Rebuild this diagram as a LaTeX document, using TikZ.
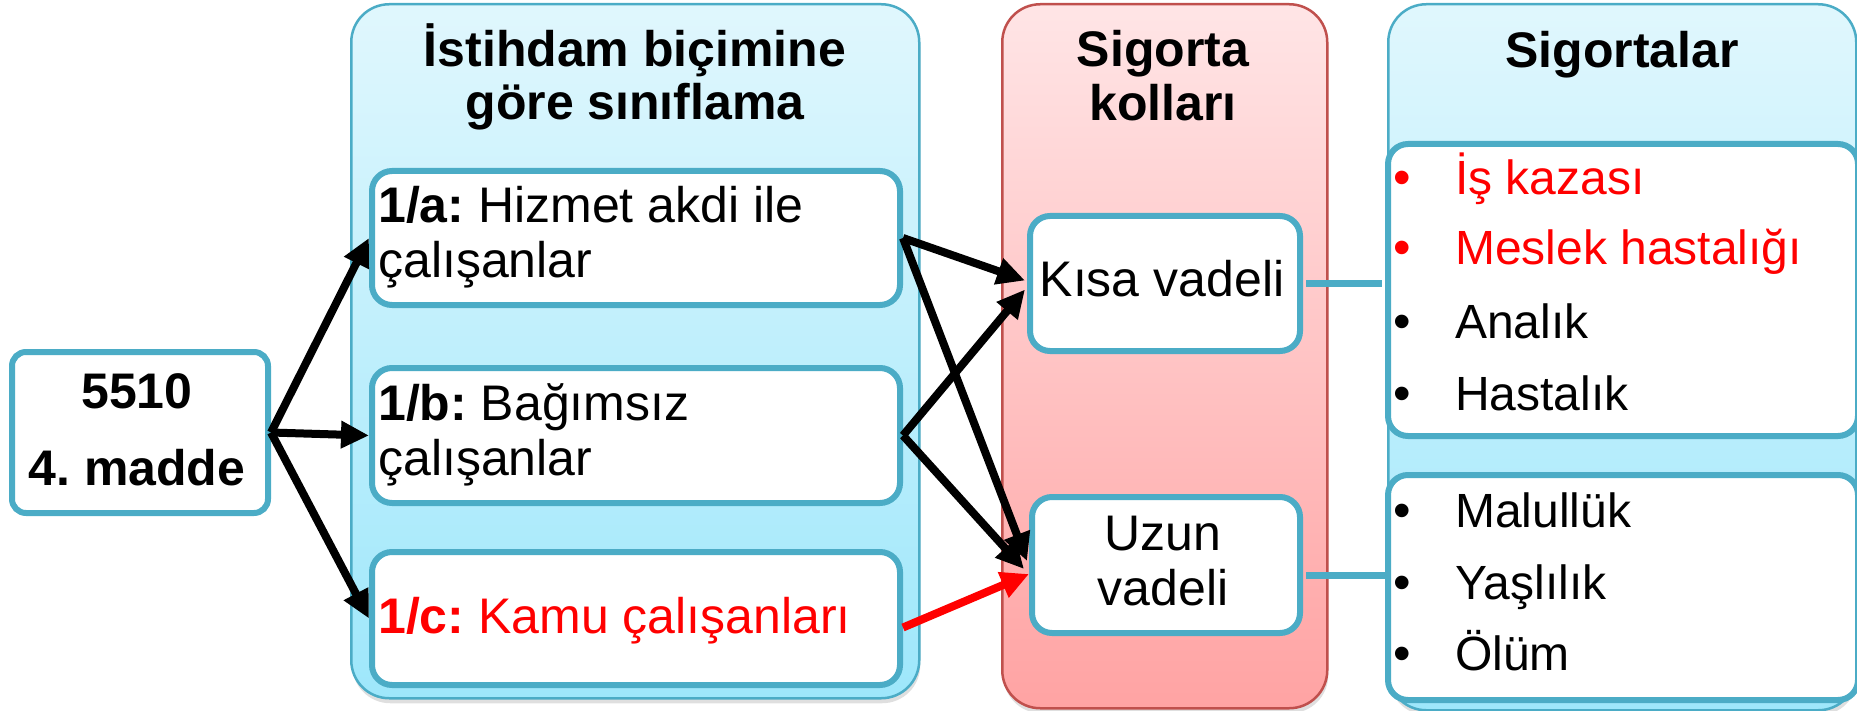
\documentclass[tikz,border=0pt]{standalone}
\usepackage{fontspec}
\setmainfont{Liberation Sans}
\usetikzlibrary{arrows.meta,shadows}
\definecolor{tealc}{HTML}{4BACC6}
\definecolor{bluetop}{HTML}{E0F7FD}
\definecolor{bluebot}{HTML}{9EE7FB}
\definecolor{pinktop}{HTML}{FFE5E6}
\definecolor{pinkbot}{HTML}{FFA3A3}
\definecolor{pinkline}{HTML}{C0504D}
\definecolor{redtxt}{HTML}{FF0000}
\frenchspacing
\begin{document}
\begin{tikzpicture}[x=1pt,y=-1pt,
  panelbase/.style={anchor=north west, inner sep=0pt, line width=2.5pt, rounded corners=38pt,
    drop shadow={shadow xshift=1pt,shadow yshift=-5pt,opacity=0.25}},
  bluepanel/.style={panelbase, draw=tealc, top color=bluetop, bottom color=bluebot},
  pinkpanel/.style={panelbase, draw=pinkline, top color=pinktop, bottom color=pinkbot},
  wbox/.style={anchor=north west, inner sep=0pt, draw=tealc, fill=white, line width=6pt, rounded corners=20pt},
  txt/.style={font=\fontsize{50pt}{60pt}\selectfont\frenchspacing, inner sep=0pt},
  btxt/.style={font=\fontsize{50pt}{60pt}\selectfont\bfseries\frenchspacing, inner sep=0pt, anchor=base},
  ltxt/.style={font=\fontsize{48pt}{58pt}\selectfont, inner sep=0pt, anchor=base west},
  bul/.style={font=\fontsize{50pt}{58pt}\selectfont, inner sep=0pt, anchor=base},
  arr/.style={line width=8pt, -{Triangle[length=28pt,width=26pt]}},
  conn/.style={draw=tealc, line width=7pt}
]
\useasboundingbox (0,0) rectangle (1857,711);

% panels
\node[bluepanel, minimum width=568pt, minimum height=694pt] (p1) at (350,3) {};
\node[pinkpanel, minimum width=325pt, minimum height=704pt] (p2) at (1001,3) {};
\node[bluepanel, minimum width=468pt, minimum height=706pt] (p3) at (1387,3) {};

% titles
\node[btxt] (t1a) at (635,67) {İstihdam biçimine};
\node[btxt] (t1b) at (635,120) {göre sınıflama};
\node[btxt] (t2a) at (1163,67) {Sigorta};
\node[btxt] (t2b) at (1163,121) {kolları};
\node[btxt] (t3) at (1622,68) {Sigortalar};

% list boxes
\node[wbox, minimum width=470pt, minimum height=292pt] (l1) at (1385,141) {};
\node[wbox, minimum width=470pt, minimum height=225pt] (l2) at (1385,472) {};

% boxes
\node[wbox, rounded corners=14pt, minimum width=256pt, minimum height=161pt] (m) at (9,349) {};
\node[wbox, minimum width=528pt, minimum height=134pt] (a) at (369,168) {};
\node[wbox, minimum width=528pt, minimum height=135pt] (b) at (369,365) {};
\node[wbox, minimum width=528pt, minimum height=133pt] (c) at (369,549) {};
\node[wbox, minimum width=270pt, minimum height=135pt] (k) at (1027,213) {};
\node[wbox, minimum width=268pt, minimum height=136pt] (u) at (1029,494) {};

\draw[conn] ([xshift=3pt]k.east) -- ([xshift=-3pt]k.east -| l1.west);
\draw[conn] ([shift={(3,10)}]u.east) -- ([shift={(3,10)}]u.east -| l2.west);

% texts in boxes
\node[btxt] (m1) at (137,408) {5510};
\node[btxt] (m2) at (137,485) {4. madde};
\node[txt, anchor=base west] (a1) at (378,223) {\textbf{1/a:} Hizmet akdi ile};
\node[txt, anchor=base west] (a2) at (378,277) {çalışanlar};
\node[txt, anchor=base west] (b1) at (378,420) {\textbf{1/b:} Bağımsız};
\node[txt, anchor=base west] (b2) at (378,475) {çalışanlar};
\node[txt, anchor=base west, text=redtxt] (c1) at (378,633) {\textbf{1/c:} Kamu çalışanları};
\node[txt, anchor=base] (k1) at (1162,297) {Kısa vadeli};
\node[txt, anchor=base] (u1) at (1163,550) {Uzun};
\node[txt, anchor=base] (u2) at (1163,605) {vadeli};

% lists
\node[bul, text=redtxt] (d1) at (1402,195) {•};
\node[ltxt, text=redtxt] (i1) at (1455,195) {İş kazası};
\node[bul, text=redtxt] (d2) at (1402,265) {•};
\node[ltxt, text=redtxt] (i2) at (1455,265) {Meslek hastalığı};
\node[bul] (d3) at (1402,338) {•};
\node[ltxt] (i3) at (1455,338) {Analık};
\node[bul] (d4) at (1402,410) {•};
\node[ltxt] (i4) at (1455,410) {Hastalık};
\node[bul] (d5) at (1402,527) {•};
\node[ltxt] (i5) at (1455,527) {Malullük};
\node[bul] (d6) at (1402,599) {•};
\node[ltxt] (i6) at (1455,599) {Yaşlılık};
\node[bul] (d7) at (1402,670) {•};
\node[ltxt] (i7) at (1455,670) {Ölüm};

% arrows
\draw[arr] (m.east) -- (a.west);
\draw[arr] (m.east) -- (b.west);
\draw[arr] (m.east) -- (c.west);
\draw[arr] (a.east) -- ([shift={(-2,-3)}]k.west);
\draw[arr] (a.east) -- ([shift={(-2,-4)}]u.west);
\draw[arr] (b.east) -- ([shift={(-2,6)}]k.west);
\draw[arr] (b.east) -- ([shift={(-5,4)}]u.west);
\draw[arr, draw=redtxt, fill=redtxt] ([shift={(0,9)}]c.east) -- ([shift={(0,9)}]u.west);
\end{tikzpicture}
\end{document}
